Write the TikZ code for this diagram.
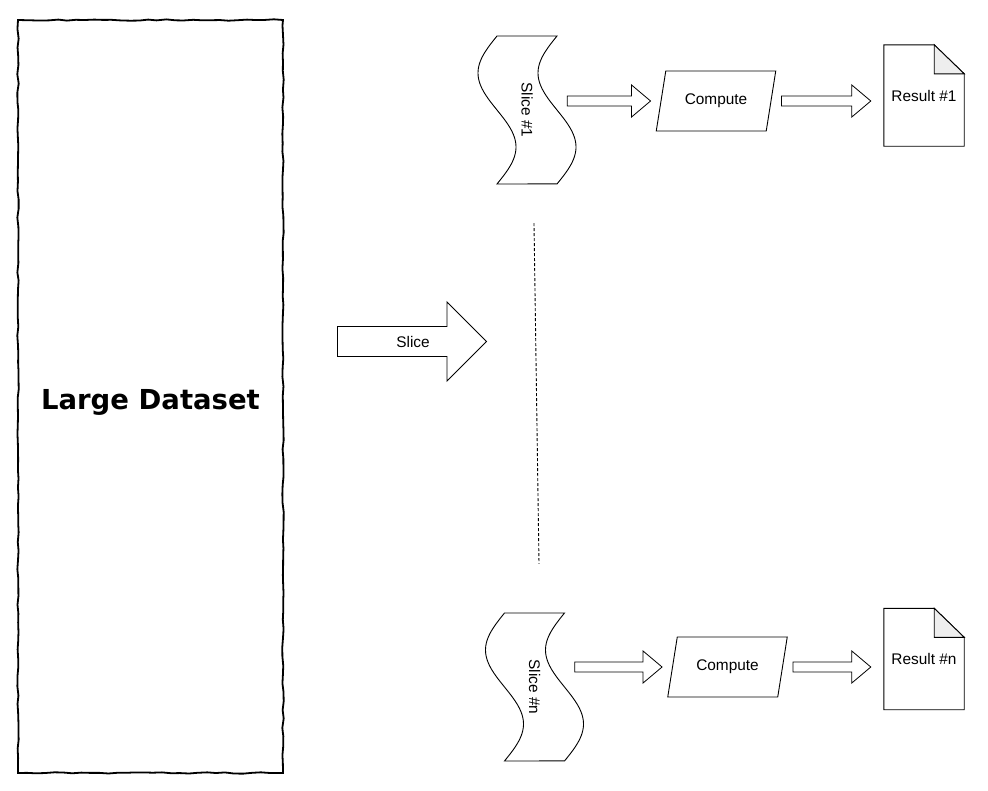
\documentclass[tikz,border=0pt]{standalone}
\usepackage{fontspec}
\setmainfont{Liberation Sans}
\newfontfamily\handfont{DejaVu Sans}
\usetikzlibrary{calc,shapes.geometric,shapes.arrows,decorations.pathmorphing}

\definecolor{foldgray}{HTML}{EEEEEE}

\tikzset{
    shapeline/.style={draw=black,line width=0.9pt},
    smalltext/.style={font=\fontsize{15.4}{18}\selectfont},
    slicebox/.style={smalltext,minimum width=60,minimum height=148,inner sep=0pt},
    computebox/.style={smalltext,shapeline,trapezium,trapezium left angle=67,trapezium right angle=113,
        trapezium stretches=true,minimum width=120,minimum height=60,inner sep=0pt},
    resultbox/.style={smalltext,minimum width=80,minimum height=101,inner sep=0pt},
    bigarrow/.style={smalltext,shapeline,single arrow,single arrow head extend=10,
        minimum width=79,minimum height=149,inner sep=0pt},
    datasetbox/.style={draw=black,line width=1.8pt,decorate,
        decoration={random steps,segment length=9pt,amplitude=0.7pt},
        minimum width=265,minimum height=753,text height=25pt,text depth=0pt,
        font=\handfont\bfseries\fontsize{27.5}{30}\selectfont},
    arrowline/.style={draw=black,line width=0.8pt},
    gapline/.style={draw=black,line width=0.9pt,dash pattern=on 3pt off 2pt}
}

% wavy tape round a slice node
\newcommand{\slicetape}[1]{%
    \begin{scope}[shift={(#1.center)}]
        \draw[shapeline] (-30,-74) -- (30,-74)
            -- plot[variable=\t,domain=0:1,samples=60] ({30-19*sin(360*\t)},{-74+148*\t})
            -- (-30,74)
            -- plot[variable=\t,domain=1:0,samples=60] ({-30-19*sin(360*\t)},{-74+148*\t})
            -- cycle;
    \end{scope}}

% page with a folded corner round a result node
\newcommand{\resultdoc}[1]{%
    \draw[shapeline] (#1.north west) -- ($(#1.north east)+(-30,0)$) -- ($(#1.north east)+(0,29)$)
        -- (#1.south east) -- (#1.south west) -- cycle;
    \draw[shapeline,fill=foldgray] ($(#1.north east)+(-30,0)$) -- ($(#1.north east)+(-30,29)$)
        -- ($(#1.north east)+(0,29)$) -- cycle;}

% hollow block arrow from #1 to #2
\newcommand{\blockarrow}[2]{%
    \draw[arrowline] let \p1=(#1), \p2=(#2) in
        ({\x1},{\y1+5pt}) -- ({\x2-19pt},{\y1+5pt}) -- ({\x2-19pt},{\y1+16pt}) -- ({\x2},{\y1})
        -- ({\x2-19pt},{\y1-16pt}) -- ({\x2-19pt},{\y1-5pt}) -- ({\x1},{\y1-5pt}) -- cycle;}

\begin{document}
\pgfmathsetseed{7}
\begin{tikzpicture}[x=1pt,y=-1pt]
    \useasboundingbox (0,0) rectangle (988,790);
    % dataset
    \node[datasetbox] (data) at (150.5,396.5) {Large Dataset};
    % slice arrow
    \node[bigarrow] (slice) at (404.5,341.5) {\hspace*{17pt}Slice};
    % one row per slice
    \foreach \k/\sx/\sy/\cx/\cy/\rx/\ry in {1/527/110/716/101/924/95.5, n/534.5/687/727.5/667/924/659}{
        \node[slicebox] (s\k) at (\sx,\sy) {\rotatebox{-90}{Slice \#\k}};
        \node[computebox] (c\k) at (\cx,\cy) {Compute};
        \node[resultbox] (r\k) at (\rx,\ry) {Result \#\k};
        \slicetape{s\k}
        \resultdoc{r\k}
        \blockarrow{$(s\k.east |- c\k.west)+(10,0)$}{$(c\k.west)+(-10,0)$}
        \blockarrow{$(c\k.east)+(10,0)$}{$(r\k.west |- c\k.east)+(-13,0)$}
    }
    % gap between the slices
    \draw[gapline] ($(s1.south)+(7,39)$) -- ($(sn.north)+(4.5,-49)$);
\end{tikzpicture}
\end{document}
